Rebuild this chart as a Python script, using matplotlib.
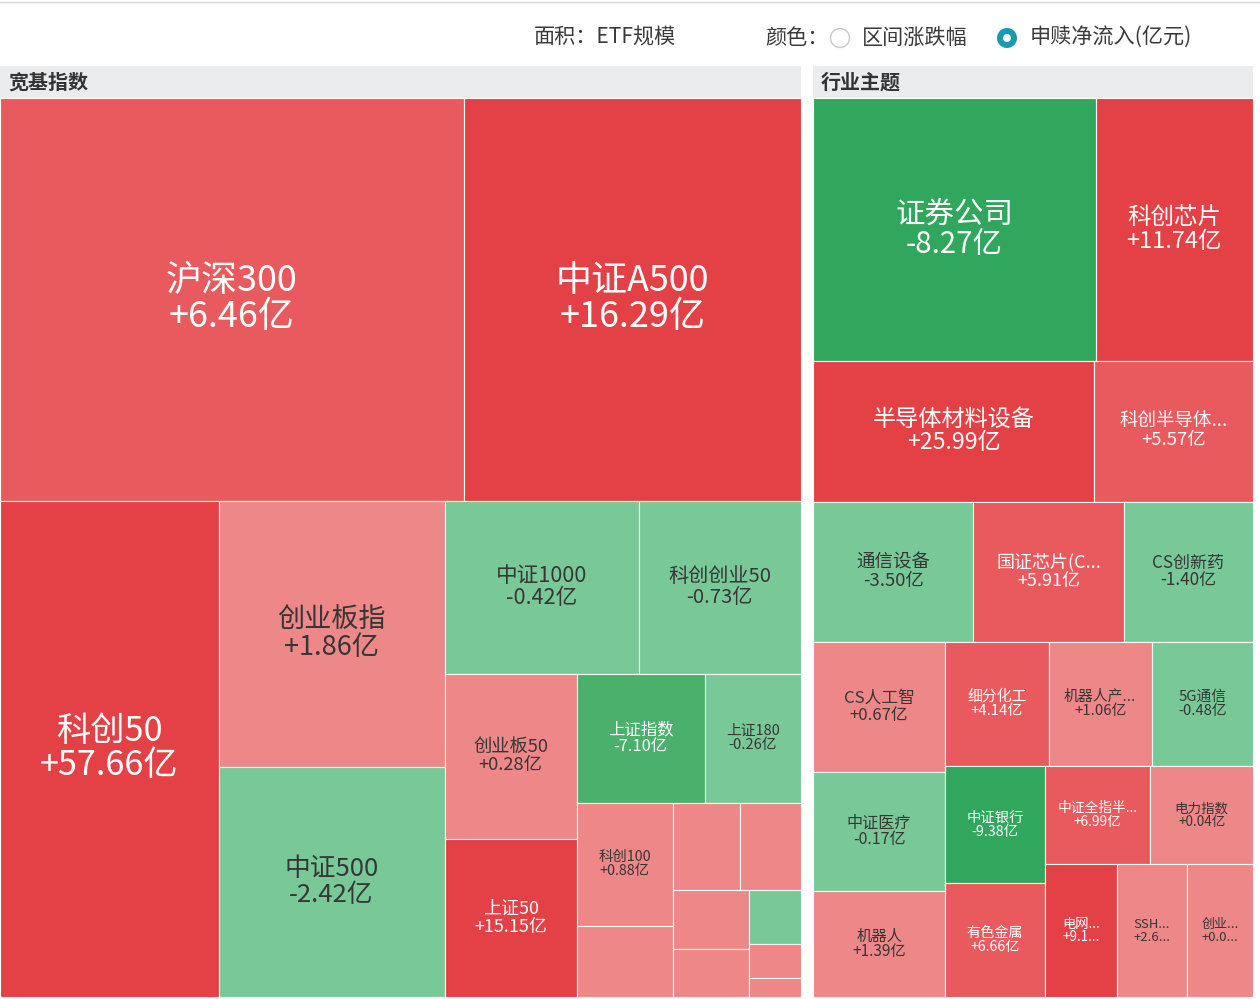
import matplotlib
matplotlib.use('Agg')
import matplotlib.pyplot as plt
from matplotlib.patches import Rectangle, Circle

plt.rcParams['font.family'] = ['Noto Sans CJK SC', 'DejaVu Sans']

# 宽基指数: 面积 = ETF规模 (估计), 颜色 = 申赎净流入(亿元)
broad_names = ['沪深300', '中证A500', '科创50', '创业板指', '中证500', '中证1000',
               '科创创业50', '创业板50', '上证50', '上证指数', '上证180', '科创100',
               '', '', '', '', '', '', '', '']
broad_size = [1865.6, 1358.4, 1084.9, 601.2, 520.9, 335.6, 281.1, 217.8, 209.2,
              165.1, 124.5, 118.1, 68.6, 58.3, 53.5, 44.6, 36.6, 28.3, 17.8, 10.1]
broad_flow = [6.46, 16.29, 57.66, 1.86, -2.42, -0.42, -0.73, 0.28, 15.15,
              -7.10, -0.26, 0.88, 0.35, 0.52, 0.21, 0.64, 0.12, -0.31, 0.18, 0.09]

# 行业主题
theme_names = ['证券公司', '科创芯片', '半导体材料设备', '科创半导体...', '通信设备',
               '国证芯片(C...', 'CS创新药', 'CS人工智', '中证医疗', '机器人',
               '细分化工', '机器人产...', '5G通信', '中证银行', '有色金属',
               '中证全指半...', '电力指数', '电网...', 'SSH...', '创业...']
theme_size = [741.6, 413.4, 396.9, 224.5, 224.0, 210.3, 180.4, 172.8, 157.0,
              140.2, 128.5, 128.5, 125.9, 116.6, 113.0, 103.8, 100.9, 95.9,
              92.9, 87.6]
theme_flow = [-8.27, 11.74, 25.99, 5.57, -3.50, 5.91, -1.40, 0.67, -0.17,
              1.39, 4.14, 1.06, -0.48, -9.38, 6.66, 6.99, 0.04, 9.12, 2.63, 0.05]

SQUARE_RATIO = 0.85
W, H = 1260, 999


def worst(areas, fixed, ratio):
    s = sum(areas)
    f = fixed * fixed * ratio
    return max(f * max(areas) / (s * s), s * s / (f * min(areas)))


def position(row, areas, rect, flush):
    x, y, w, h = rect
    horiz = w <= h
    fixed, room = (w, h) if horiz else (h, w)
    thick = sum(areas[j] for j in row) / fixed
    if flush or thick > room:
        thick = room
    cells = []
    pos = x if horiz else y
    end = pos + fixed
    for k, j in enumerate(row):
        length = end - pos if k == len(row) - 1 else areas[j] / thick
        if horiz:
            cells.append((j, pos, y, length, thick))
        else:
            cells.append((j, x, pos, thick, length))
        pos += length
    if horiz:
        rect[1] += thick
        rect[3] -= thick
    else:
        rect[0] += thick
        rect[2] -= thick
    return cells


def squarify(values, x, y, w, h, ratio=SQUARE_RATIO):
    total = sum(values)
    areas = [v / total * w * h for v in values]
    rect = [x, y, w, h]
    cells, row = [], []
    best = float('inf')
    i = 0
    while i < len(areas):
        fixed = min(rect[2], rect[3])
        score = worst([areas[j] for j in row] + [areas[i]], fixed, ratio)
        if score <= best:
            row.append(i)
            best = score
            i += 1
        else:
            cells += position(row, areas, rect, False)
            row = []
            best = float('inf')
    if row:
        cells += position(row, areas, rect, True)
    return cells


def flow_color(v):
    if v >= 8:
        return '#E34146'
    if v >= 4:
        return '#E85A5E'
    if v >= 0:
        return '#EE8787'
    if v > -4:
        return '#78C997'
    if v > -8:
        return '#4BB06C'
    return '#30A75C'


def fit_text(ax, x, y, s, limit, **kw):
    t = ax.text(x, y, s, **kw)
    r = ax.figure.canvas.get_renderer()
    cut = len(s)
    while t.get_window_extent(r).width > limit and cut > 1:
        cut -= 1
        t.set_text(s[:cut] + '...')
    return t


def draw_panel(ax, title, names, sizes, flows, x, y, w, h):
    ax.add_patch(Rectangle((x, y), w, 32, facecolor='#EBECEE', edgecolor='none'))
    ax.text(x + 8, y + 16.5, title, fontsize=14.4, fontweight='bold',
            color='#333333', ha='left', va='center')
    top = y + 32
    for j, cx, cy, cw, ch in squarify(sizes, x, top, w, h - 32):
        v = flows[j]
        ax.add_patch(Rectangle((cx, cy), cw, ch, facecolor=flow_color(v),
                               edgecolor='#FFFFFF', linewidth=0.8))
        if not names[j]:
            continue
        fs = min(36, max(13, 13.5 * (cw * ch / 10000) ** 0.39))
        tc = '#FFFFFF' if abs(v) >= 4 else '#363636'
        mx, my = cx + cw / 2, cy + ch / 2
        kw = dict(fontsize=fs * 0.72, color=tc, ha='center', va='center')
        ax.text(mx, my - fs * 0.5, names[j], **kw)
        fit_text(ax, mx, my + fs * 0.5, '{:+.2f}亿'.format(v), 0.72 * cw - 8, **kw)


fig = plt.figure(figsize=(W / 100, H / 100), dpi=100)
ax = fig.add_axes([0, 0, 1, 1])
ax.set_xlim(0, W)
ax.set_ylim(H, 0)
ax.axis('off')
fig.canvas.draw()

# header / legend
ax.plot([0, W], [1.5, 1.5], color='#D6D6D6', linewidth=1)
hdr = dict(fontsize=15.2, color='#3A3A3A', ha='left', va='center')
ax.text(534, 38, '面积：ETF规模', **hdr)
ax.text(765, 38, '颜色：', **hdr)
ax.add_patch(Circle((840, 38), 9.5, facecolor='white', edgecolor='#C8C8C8', linewidth=1))
ax.text(862, 38, '区间涨跌幅', **hdr)
ax.add_patch(Circle((1007, 38), 10, facecolor='#1A9AB0', edgecolor='none'))
ax.add_patch(Circle((1007, 38), 4, facecolor='white', edgecolor='none'))
ax.text(1030, 38, '申赎净流入(亿元)', **hdr)

# two panels share the width in proportion to their total size
gap = 12
usable = 1253 - gap
left_w = usable * sum(broad_size) / (sum(broad_size) + sum(theme_size))
draw_panel(ax, '宽基指数', broad_names, broad_size, broad_flow, 0, 66, left_w, 931)
draw_panel(ax, '行业主题', theme_names, theme_size, theme_flow,
           left_w + gap, 66, usable - left_w, 931)

fig.savefig('out.png', dpi=100)
